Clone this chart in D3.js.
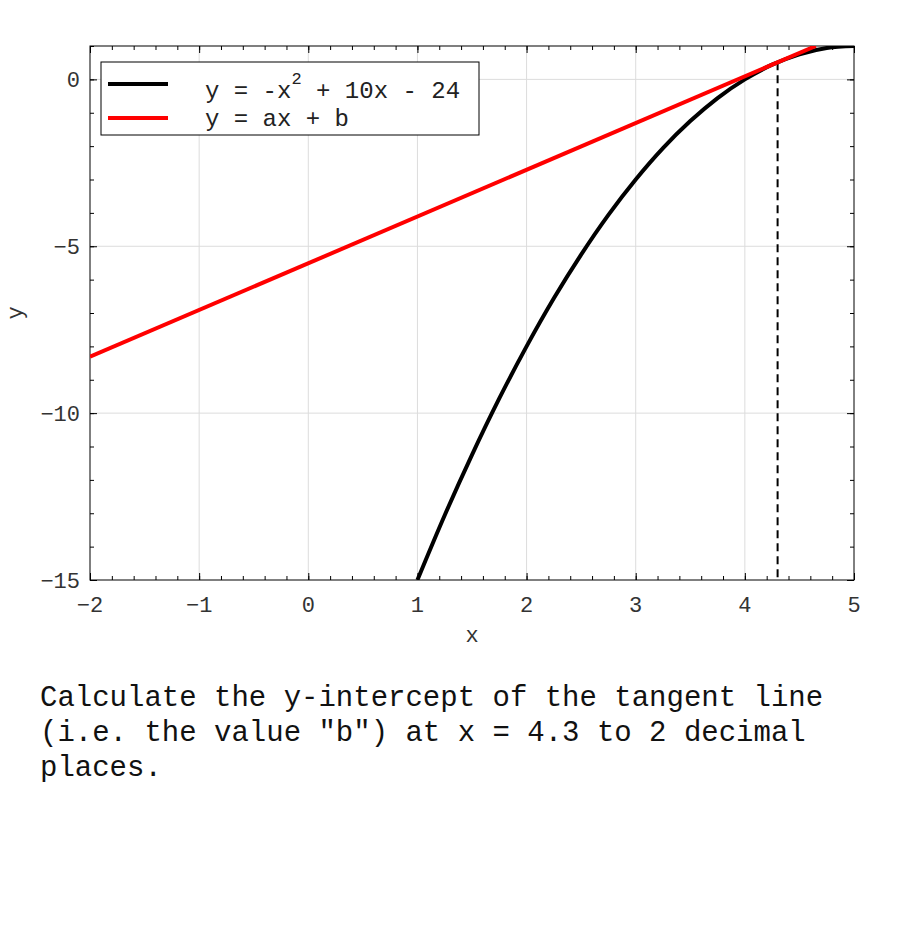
<!DOCTYPE html>
<html>
<head>
<meta charset="utf-8">
<script src="https://cdn.jsdelivr.net/npm/d3@7"></script>
<style>
  body { margin: 0; background: #fff; }
  svg text { font-family: "Liberation Mono", "DejaVu Sans Mono", monospace; }
  .grid line { stroke: #dcdcdc; stroke-width: 1; }
</style>
</head>
<body>
<div id="chart"></div>
<script>
// curve points
var curveX = [1, 1.25, 1.5, 1.75, 2, 2.25, 2.5, 2.75, 3, 3.25, 3.5, 3.75, 4, 4.25, 4.5, 4.75, 5];
var curveY = [-15, -13.06, -11.25, -9.56, -8, -6.56, -5.25, -4.06, -3, -2.06, -1.25, -0.56, 0, 0.44, 0.75, 0.94, 1];
// tangent line ends
var lineX = [-2, 4.65];
var lineY = [-8.31, 1.0];
// dashed marker at x = 4.3
var markX = [4.3, 4.3];
var markY = [0.51, -15];

var xTicks = [-2, -1, 0, 1, 2, 3, 4, 5];
var yTicks = [0, -5, -10, -15];
var legendLabels = ["y = -x", "y = ax + b"];
var question = ["Calculate the y-intercept of the tangent line",
                "(i.e. the value \"b\") at x = 4.3 to 2 decimal",
                "places."];

var width = 900, height = 930;
var margin = {left: 90, right: 46, top: 46, bottom: 350};

var svg = d3.select("#chart").append("svg")
    .attr("width", width)
    .attr("height", height);

var x = d3.scaleLinear().domain([-2, 5]).range([margin.left, width - margin.right]);
var y = d3.scaleLinear().domain([-15, 1]).range([height - margin.bottom, margin.top]);

var x0 = x.range()[0], x1 = x.range()[1];
var yb = y.range()[0], yt = y.range()[1];

// grid
var grid = svg.append("g").attr("class", "grid");
grid.selectAll(".gx").data(xTicks.slice(1, -1)).enter().append("line")
    .attr("x1", function(d) { return x(d); }).attr("x2", function(d) { return x(d); })
    .attr("y1", yt).attr("y2", yb);
grid.selectAll(".gy").data(yTicks.slice(0, -1)).enter().append("line")
    .attr("y1", function(d) { return y(d); }).attr("y2", function(d) { return y(d); })
    .attr("x1", x0).attr("x2", x1);

var xMinor = d3.range(-2, 5.001, 0.2);
var yMinor = d3.range(-15, 1.001, 1);

function drawAxis(makeAxis, tr, minor, major) {
  [[minor, 4], [major, 7]].forEach(function(p) {
    var g = svg.append("g").attr("transform", tr);
    g.call(makeAxis().tickValues(p[0]).tickSizeInner(-p[1]).tickSizeOuter(0).tickFormat(""));
    g.select(".domain").remove();
    g.selectAll(".tick line").attr("stroke", "#000");
  });
}

drawAxis(function() { return d3.axisBottom(x); }, "translate(0," + yb + ")", xMinor, xTicks);
drawAxis(function() { return d3.axisTop(x); }, "translate(0," + yt + ")", xMinor, xTicks);
drawAxis(function() { return d3.axisLeft(y); }, "translate(" + x0 + ",0)", yMinor, yTicks);
drawAxis(function() { return d3.axisRight(y); }, "translate(" + x1 + ",0)", yMinor, yTicks);

// frame
svg.append("rect")
    .attr("x", x0).attr("y", yt)
    .attr("width", x1 - x0).attr("height", yb - yt)
    .attr("fill", "none").attr("stroke", "#000").attr("stroke-width", 1);

// tick labels
svg.selectAll(".xl").data(xTicks).enter().append("text")
    .attr("x", function(d) { return x(d); })
    .attr("y", yb + 32)
    .attr("text-anchor", "middle")
    .attr("font-size", 22)
    .attr("fill", "#333")
    .text(function(d) { return d < 0 ? "\u2212" + (-d) : d; });

svg.selectAll(".yl").data(yTicks).enter().append("text")
    .attr("x", x0 - 10)
    .attr("y", function(d) { return y(d) + 8; })
    .attr("text-anchor", "end")
    .attr("font-size", 22)
    .attr("fill", "#333")
    .text(function(d) { return d < 0 ? "\u2212" + (-d) : d; });

svg.append("text")
    .attr("x", (x0 + x1) / 2).attr("y", yb + 62)
    .attr("text-anchor", "middle")
    .attr("font-size", 22).attr("fill", "#333")
    .text("x");
svg.append("text")
    .attr("transform", "translate(22," + ((yt + yb) / 2) + ") rotate(-90)")
    .attr("text-anchor", "middle")
    .attr("font-size", 22).attr("fill", "#333")
    .text("y");

// clip to plot
svg.append("clipPath").attr("id", "clip").append("rect")
    .attr("x", x0).attr("y", yt).attr("width", x1 - x0).attr("height", yb - yt);

var plot = svg.append("g").attr("clip-path", "url(#clip)");

var line = d3.line()
    .x(function(d) { return x(d[0]); })
    .y(function(d) { return y(d[1]); });

plot.append("path")
    .datum(markX.map(function(v, i) { return [v, markY[i]]; }))
    .attr("d", line)
    .attr("fill", "none").attr("stroke", "#000")
    .attr("stroke-width", 2).attr("stroke-dasharray", "8,5");

plot.append("path")
    .datum(curveX.map(function(v, i) { return [v, curveY[i]]; }))
    .attr("d", line.curve(d3.curveMonotoneX))
    .attr("fill", "none").attr("stroke", "#000").attr("stroke-width", 4);

plot.append("path")
    .datum(lineX.map(function(v, i) { return [v, lineY[i]]; }))
    .attr("d", line.curve(d3.curveLinear))
    .attr("fill", "none").attr("stroke", "#f00").attr("stroke-width", 4);

// legend
var leg = svg.append("g");
leg.append("rect")
    .attr("x", 101).attr("y", 62).attr("width", 378).attr("height", 73)
    .attr("fill", "#fff").attr("stroke", "#000").attr("stroke-width", 1);
var legColors = ["#000", "#f00"];
legendLabels.forEach(function(lbl, i) {
  var ly = 84 + i * 34;
  leg.append("line")
      .attr("x1", 108).attr("x2", 168).attr("y1", ly).attr("y2", ly)
      .attr("stroke", legColors[i]).attr("stroke-width", 4);
  var t = leg.append("text")
      .attr("x", 205).attr("y", 98 + i * 28)
      .attr("font-size", 24).attr("fill", "#222")
      .attr("xml:space", "preserve");
  t.append("tspan").text(lbl);
  if (i === 0) {
    t.append("tspan").attr("dy", -14).attr("font-size", 17).text("2");
    t.append("tspan").attr("dy", 14).text(" + 10x - 24");
  }
});

// question text
svg.selectAll(".q").data(question).enter().append("text")
    .attr("x", 40)
    .attr("y", function(d, i) { return 706 + i * 35; })
    .attr("font-size", 29)
    .attr("fill", "#111")
    .attr("xml:space", "preserve")
    .text(function(d) { return d; });
</script>
</body>
</html>
